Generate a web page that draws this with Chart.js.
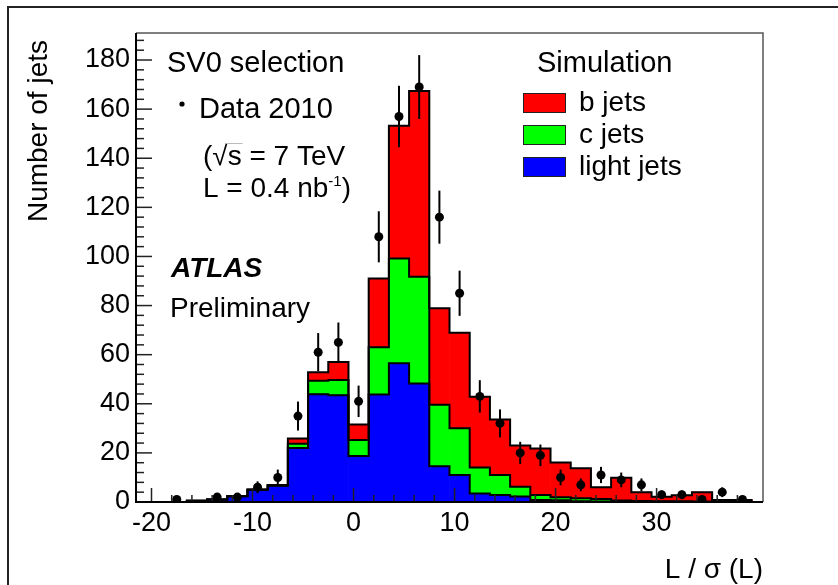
<!DOCTYPE html>
<html>
<head>
<meta charset="utf-8">
<script src="https://cdn.jsdelivr.net/npm/chart.js@4/dist/chart.umd.min.js"></script>
<style>
  body { margin: 0; background: #fff; }
  canvas { display: block; }
</style>
</head>
<body>
<canvas id="chart" width="838" height="585"></canvas>
<script>
'use strict';

// bin centres of L/sigma(L), 2 units wide
const binWidth = 2;
const binCenters = [-19.5, -17.5, -15.5, -13.5, -11.5, -9.5, -7.5, -5.5, -3.5, -1.5,
  0.5, 2.5, 4.5, 6.5, 8.5, 10.5, 12.5, 14.5, 16.5, 18.5,
  20.5, 22.5, 24.5, 26.5, 28.5, 30.5, 32.5, 34.5, 36.5, 38.5];

// simulation, stacked: light at the bottom, then c, then b
const lightJets = [0, 0, 0.5, 1.0, 2.3, 5.0, 6.6, 22.0, 43.9, 43.5,
  18.7, 43.8, 56.5, 48.3, 14.6, 11.0, 3.5, 2.8, 2.2, 0.8,
  0.7, 0.3, 0.2, 0.2, 0.1, 0.1, 0.1, 0, 0, 0];
const cJets = [0, 0, 0, 0, 0, 0, 0.1, 1.7, 5.5, 6.2,
  6.5, 19.2, 42.7, 43.4, 25.0, 19.0, 10.6, 8.2, 4.0, 2.0,
  1.2, 1.2, 1.0, 0.4, 0.3, 0.2, 0.2, 0.2, 0.1, 0.1];
const bJets = [0, 0, 0, 0, 0.1, 0.1, 0.2, 2.2, 3.4, 7.3,
  6.4, 28.0, 54.0, 75.7, 39.3, 38.9, 28.8, 22.6, 16.8, 19.0,
  14.2, 12.2, 4.8, 9.3, 3.6, 1.8, 2.4, 3.8, 0.7, 0.7];

// Data 2010 (empty bins left out)
const dataCounts = [null, 1, null, 2, 2, 6, 10, 35, 61, 65,
  41, 108, 157, 169, 116, 85, 43, 32, 20, 19,
  10, 7, 11, 9, 7, 3, 3, 1, 4, 1];
const dataErrors = [0, 1, 0, 1.4, 1.4, 2.4, 3.2, 5.9, 7.8, 8.1,
  6.4, 10.4, 12.5, 13, 10.8, 9.2, 6.6, 5.7, 4.5, 4.4,
  3.2, 2.6, 3.3, 3, 2.6, 1.7, 1.7, 1, 2, 1];

// axes
const xMin = -20.5, xMax = 39.5, xMinorStep = 2, xMajorStep = 10;
const yMin = 0, yMax = 191, yMinorStep = 4, yMajorStep = 20;

const FONT = "'Liberation Sans', Arial, Helvetica, sans-serif";

const midTop = lightJets.map((v, i) => v + cJets[i]);
const totalTop = midTop.map((v, i) => v + bJets[i]);

const toPoints = (arr) => binCenters.map((x, i) => ({ x: x, y: arr[i] }));

// outline of a cumulative histogram, one point per left bin edge
const stepPoints = (arr) => {
  let pts = binCenters.map((x, i) => ({ x: x - binWidth / 2, y: arr[i] }));
  pts.push({ x: binCenters[binCenters.length - 1] + binWidth / 2, y: arr[arr.length - 1] });
  return pts;
};

const barStyle = {
  type: 'bar',
  stack: 'mc',
  borderWidth: 0,
  barPercentage: 1,
  categoryPercentage: 1,
  order: 5
};

const outlineStyle = {
  type: 'line',
  stepped: 'before',
  borderColor: '#000',
  borderWidth: 2,
  pointRadius: 0,
  fill: false,
  order: 2
};

function makeTicks(min, max, step) {
  let ticks = [];
  for (let v = Math.ceil(min / step) * step; v <= max; v += step) {
    ticks.push({ value: v });
  }
  return ticks;
}

// frame, inner tick marks, error bars
const frameAndErrors = {
  id: 'frameAndErrors',
  afterDatasetsDraw(chart) {
    const ctx = chart.ctx;
    const area = chart.chartArea;
    const xs = chart.scales.x;
    const ys = chart.scales.y;

    ctx.save();
    // error bars
    ctx.strokeStyle = '#000';
    ctx.lineWidth = 2;
    dataCounts.forEach((v, i) => {
      if (v === null) return;
      const px = xs.getPixelForValue(binCenters[i]);
      const lo = ys.getPixelForValue(Math.max(0, v - dataErrors[i]));
      const hi = ys.getPixelForValue(v + dataErrors[i]);
      ctx.beginPath();
      ctx.moveTo(px, lo);
      ctx.lineTo(px, hi);
      ctx.stroke();
    });

    // tick marks, pointing into the frame
    ctx.lineWidth = 1.5;
    ctx.strokeStyle = '#222';
    ys.ticks.forEach((t) => {
      const py = ys.getPixelForValue(t.value);
      const len = t.value % yMajorStep === 0 ? 16 : 8;
      ctx.beginPath();
      ctx.moveTo(area.left, py);
      ctx.lineTo(area.left + len, py);
      ctx.stroke();
    });
    xs.ticks.forEach((t) => {
      const px = xs.getPixelForValue(t.value);
      const len = t.value % xMajorStep === 0 ? 14 : 7;
      ctx.beginPath();
      ctx.moveTo(px, area.bottom);
      ctx.lineTo(px, area.bottom - len);
      ctx.stroke();
    });

    // frame
    ctx.strokeStyle = '#555';
    ctx.lineWidth = 1.5;
    ctx.beginPath();
    ctx.moveTo(area.left, area.top);
    ctx.lineTo(area.right, area.top);
    ctx.lineTo(area.right, area.bottom);
    ctx.stroke();
    ctx.strokeStyle = '#000';
    ctx.lineWidth = 2;
    ctx.beginPath();
    ctx.moveTo(area.left, area.top);
    ctx.lineTo(area.left, area.bottom);
    ctx.lineTo(area.right, area.bottom);
    ctx.stroke();
    ctx.restore();
  }
};

// titles, labels and legend
const annotations = {
  id: 'annotations',
  afterDraw(chart) {
    const ctx = chart.ctx;
    const area = chart.chartArea;
    ctx.save();

    // outer border of the picture
    ctx.strokeStyle = '#222';
    ctx.lineWidth = 2;
    ctx.beginPath();
    ctx.moveTo(8, 585);
    ctx.lineTo(8, 7);
    ctx.lineTo(838, 7);
    ctx.stroke();

    ctx.fillStyle = '#000';
    ctx.textBaseline = 'alphabetic';

    // axis titles
    ctx.font = '28px ' + FONT;
    ctx.textAlign = 'right';
    ctx.fillText('L / \u03c3 (L)', area.right, 578);
    ctx.save();
    ctx.translate(47, 40);
    ctx.rotate(-Math.PI / 2);
    ctx.fillText('Number of jets', 0, 0);
    ctx.restore();

    ctx.textAlign = 'left';
    ctx.font = '29px ' + FONT;
    ctx.fillText('SV0 selection', 167, 72);

    ctx.beginPath();
    ctx.arc(182, 104, 2.6, 0, Math.PI * 2);
    ctx.fill();
    ctx.fillText('Data 2010', 199, 118);

    ctx.font = '28px ' + FONT;
    ctx.fillText('(\u221As = 7 TeV', 203, 165);
    // bar of the square root over the s
    const sx = 203 + ctx.measureText('(\u221A').width;
    ctx.strokeStyle = '#bbb';
    ctx.lineWidth = 1;
    ctx.beginPath();
    ctx.moveTo(sx - 2, 143.5);
    ctx.lineTo(sx + ctx.measureText('s').width + 1, 143.5);
    ctx.stroke();

    const lumi = 'L = 0.4 nb';
    ctx.fillText(lumi, 203, 197);
    let lx = 203 + ctx.measureText(lumi).width;
    ctx.font = '15px ' + FONT;
    ctx.fillText('-1', lx, 186);
    lx += ctx.measureText('-1').width;
    ctx.font = '28px ' + FONT;
    ctx.fillText(')', lx, 197);

    ctx.font = 'italic bold 28px ' + FONT;
    ctx.fillText('ATLAS', 171, 277);
    ctx.font = '28px ' + FONT;
    ctx.fillText('Preliminary', 170, 317);

    // legend
    ctx.font = '29px ' + FONT;
    ctx.fillText('Simulation', 537, 72);
    const entries = [
      { label: 'b jets', color: '#ff0000', top: 93 },
      { label: 'c jets', color: '#00ff00', top: 125 },
      { label: 'light jets', color: '#0000ff', top: 157 }
    ];
    ctx.font = '28px ' + FONT;
    entries.forEach((e) => {
      ctx.fillStyle = e.color;
      ctx.fillRect(523, e.top, 42, 19);
      ctx.strokeStyle = '#222';
      ctx.lineWidth = 1;
      ctx.strokeRect(523.5, e.top + 0.5, 42, 19);
      ctx.fillStyle = '#000';
      ctx.fillText(e.label, 579, e.top + 18);
    });
    ctx.restore();
  }
};

const chart = new Chart(document.getElementById('chart'), {
  data: {
    datasets: [
      Object.assign({ label: 'light jets', data: toPoints(lightJets), backgroundColor: '#0000ff' }, barStyle),
      Object.assign({ label: 'c jets', data: toPoints(cJets), backgroundColor: '#00ff00' }, barStyle),
      Object.assign({ label: 'b jets', data: toPoints(bJets), backgroundColor: '#ff0000' }, barStyle),
      Object.assign({ label: 'light outline', data: stepPoints(lightJets), stack: 'o1' }, outlineStyle),
      Object.assign({ label: 'c outline', data: stepPoints(midTop), stack: 'o2' }, outlineStyle),
      Object.assign({ label: 'b outline', data: stepPoints(totalTop), stack: 'o3' }, outlineStyle),
      {
        type: 'line',
        label: 'Data 2010',
        data: toPoints(dataCounts),
        stack: 'data',
        showLine: false,
        pointRadius: 4.5,
        pointBackgroundColor: '#000',
        pointBorderColor: '#000',
        pointBorderWidth: 0,
        order: 0
      }
    ]
  },
  options: {
    responsive: false,
    devicePixelRatio: 1,
    animation: false,
    layout: { padding: { left: 0, right: 75, top: 33, bottom: 0 } },
    plugins: {
      legend: { display: false },
      tooltip: { enabled: false }
    },
    scales: {
      x: {
        type: 'linear',
        min: xMin,
        max: xMax,
        grid: { display: false, drawTicks: false, tickLength: 0 },
        border: { display: false },
        afterBuildTicks: (scale) => { scale.ticks = makeTicks(xMin, xMax, xMinorStep); },
        afterFit: (scale) => { scale.height = 83; },
        ticks: {
          autoSkip: false,
          maxRotation: 0,
          padding: 5,
          color: '#000',
          font: { family: FONT, size: 27 },
          callback: (v) => (v % xMajorStep === 0 ? String(v) : '')
        }
      },
      y: {
        type: 'linear',
        stacked: true,
        min: yMin,
        max: yMax,
        grid: { display: false, drawTicks: false, tickLength: 0 },
        border: { display: false },
        afterBuildTicks: (scale) => { scale.ticks = makeTicks(yMin, yMax, yMinorStep); },
        afterFit: (scale) => { scale.width = 136; },
        ticks: {
          autoSkip: false,
          padding: 6,
          color: '#000',
          font: { family: FONT, size: 27 },
          callback: (v) => (v % yMajorStep === 0 ? String(v) : '')
        }
      }
    }
  },
  plugins: [frameAndErrors, annotations]
});
</script>
</body>
</html>
